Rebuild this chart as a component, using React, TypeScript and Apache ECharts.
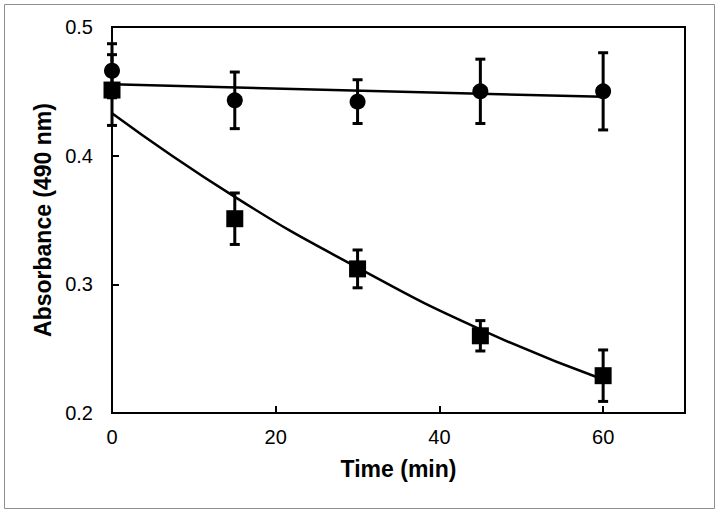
import React, { useEffect, useRef } from "react";
import * as echarts from "echarts";

const timeMin = [0, 15, 30, 45, 60];
const circleValues = [0.466, 0.443, 0.442, 0.45, 0.45];
const circleErrors = [0.021, 0.022, 0.017, 0.025, 0.03];
const squareValues = [0.451, 0.351, 0.312, 0.26, 0.229];
const squareErrors = [0.0275, 0.02, 0.0147, 0.0118, 0.02];
const circleFitTimes = [0, 60];
const circleFitValues = [0.4555, 0.4457];
const squareFitValues = [0.433, 0.368, 0.313, 0.265, 0.226];
const yTicks = [0.2, 0.3, 0.4, 0.5];
const xTickLabels = ["0", "20", "40", "60"];

const FONT = "'Liberation Sans', Arial, sans-serif";

export default function App() {
  const ref = useRef<HTMLDivElement>(null);
  useEffect(() => {
    if (!ref.current) return;
    const chart = echarts.init(ref.current, undefined, { renderer: "svg" });

    const errData = (vals: number[], errs: number[]) =>
      timeMin.map((t, i) => [t, vals[i] - errs[i], vals[i] + errs[i]]);

    const renderErr = (params: any, api: any) => {
      const x = api.value(0);
      const pLo = api.coord([x, api.value(1)]);
      const pHi = api.coord([x, api.value(2)]);
      const w = 5;
      const st = { stroke: "#000", lineWidth: 3 };
      return {
        type: "group",
        children: [
          { type: "line", shape: { x1: pHi[0], y1: pHi[1], x2: pLo[0], y2: pLo[1] }, style: st },
          { type: "line", shape: { x1: pHi[0] - w, y1: pHi[1], x2: pHi[0] + w, y2: pHi[1] }, style: st },
          { type: "line", shape: { x1: pLo[0] - w, y1: pLo[1], x2: pLo[0] + w, y2: pLo[1] }, style: st },
        ],
      };
    };

    chart.setOption({
      animation: false,
      backgroundColor: "#fff",
      graphic: [
        {
          type: "rect",
          shape: { x: 4.5, y: 4.5, width: 710, height: 504 },
          style: { fill: "none", stroke: "#8f8f8f", lineWidth: 1 },
          silent: true,
        },
      ],
      grid: {
        left: 112,
        right: 39,
        top: 27,
        bottom: 102,
        show: true,
        borderColor: "#000",
        borderWidth: 2,
        backgroundColor: "transparent",
      },
      xAxis: {
        type: "value",
        min: 0,
        max: 70,
        interval: 20,
        name: "Time (min)",
        nameLocation: "middle",
        nameGap: 44,
        nameTextStyle: { fontFamily: FONT, fontSize: 23, fontWeight: "bold", color: "#000" },
        axisLine: { show: true, onZero: false, lineStyle: { color: "#000", width: 2 } },
        axisTick: { show: true, inside: true, length: 7, lineStyle: { color: "#000", width: 2 } },
        axisLabel: {
          fontFamily: FONT,
          fontSize: 20,
          color: "#000",
          margin: 14,
          showMaxLabel: false,
          formatter: (v: number) => {
            const i = [0, 20, 40, 60].indexOf(v);
            return i >= 0 ? xTickLabels[i] : "";
          },
        },
        splitLine: { show: false },
      },
      yAxis: {
        type: "value",
        min: yTicks[0],
        max: yTicks[yTicks.length - 1],
        interval: 0.1,
        name: "Absorbance (490 nm)",
        nameLocation: "middle",
        nameGap: 52,
        nameTextStyle: { fontFamily: FONT, fontSize: 23, fontWeight: "bold", color: "#000" },
        axisLine: { show: true, onZero: false, lineStyle: { color: "#000", width: 2 } },
        axisTick: { show: true, inside: true, length: 7, lineStyle: { color: "#000", width: 2 } },
        axisLabel: {
          fontFamily: FONT,
          fontSize: 20,
          color: "#000",
          margin: 19,
          formatter: (v: number) => v.toFixed(1),
        },
        splitLine: { show: false },
      },
      series: [
        {
          type: "line",
          data: circleFitTimes.map((t, i) => [t, circleFitValues[i]]),
          showSymbol: false,
          lineStyle: { color: "#000", width: 2.5 },
          z: 2,
        },
        {
          type: "line",
          data: timeMin.map((t, i) => [t, squareFitValues[i]]),
          smooth: true,
          showSymbol: false,
          lineStyle: { color: "#000", width: 2.5 },
          z: 2,
        },
        {
          type: "custom",
          renderItem: renderErr,
          data: errData(circleValues, circleErrors),
          encode: { x: 0, y: [1, 2] },
          z: 3,
        },
        {
          type: "custom",
          renderItem: renderErr,
          data: errData(squareValues, squareErrors),
          encode: { x: 0, y: [1, 2] },
          z: 3,
        },
        {
          type: "scatter",
          data: timeMin.map((t, i) => [t, circleValues[i]]),
          symbol: "circle",
          symbolSize: 16,
          itemStyle: { color: "#000", opacity: 1 },
          z: 4,
        },
        {
          type: "scatter",
          data: timeMin.map((t, i) => [t, squareValues[i]]),
          symbol: "rect",
          symbolSize: 17,
          itemStyle: { color: "#000", opacity: 1 },
          z: 4,
        },
      ],
    });
    return () => chart.dispose();
  }, []);
  return (
    <div
      ref={ref}
      style={{ position: "fixed", left: 0, top: 0, width: 724, height: 515, background: "#fff" }}
    />
  );
}
